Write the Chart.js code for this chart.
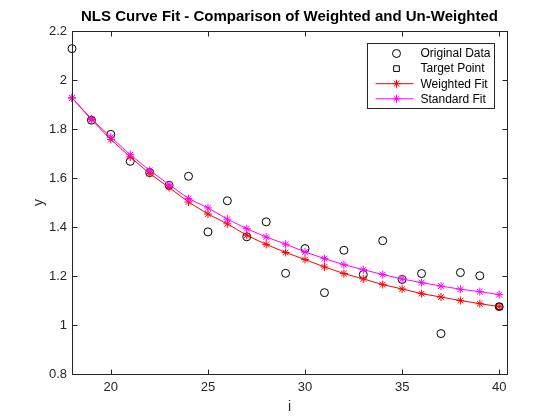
<!DOCTYPE html>
<html>
<head>
<meta charset="utf-8">
<title>NLS Curve Fit</title>
<script src="https://cdn.jsdelivr.net/npm/chart.js"></script>
<style>
  html, body { margin: 0; padding: 0; background: #fff; }
  #wrap { width: 560px; height: 420px; }
</style>
</head>
<body>
<div id="wrap"><canvas id="fitChart" width="560" height="420"></canvas></div>
<script>
const iValues = [18, 19, 20, 21, 22, 23, 24, 25, 26, 27, 28, 29, 30, 31, 32, 33, 34, 35, 36, 37, 38, 39, 40];
const originalY = [2.128, 1.836, 1.778, 1.668, 1.622, 1.570, 1.607, 1.380, 1.507, 1.360, 1.421, 1.211,
  1.312, 1.132, 1.305, 1.206, 1.344, 1.186, 1.210, 0.965, 1.214, 1.201, 1.075];
const weightedY = [1.927, 1.838, 1.757, 1.686, 1.618, 1.561, 1.502, 1.453, 1.413, 1.366, 1.329, 1.296,
  1.267, 1.237, 1.210, 1.188, 1.165, 1.147, 1.128, 1.114, 1.100, 1.087, 1.075];
const standardY = [1.927, 1.842, 1.767, 1.695, 1.631, 1.573, 1.516, 1.478, 1.432, 1.393, 1.359, 1.330,
  1.298, 1.271, 1.246, 1.226, 1.206, 1.188, 1.173, 1.159, 1.146, 1.136, 1.124];
const targetI = [40];
const targetY = [1.075];
const xTicks = [20, 25, 30, 35, 40];
const yTicks = [0.8, 1, 1.2, 1.4, 1.6, 1.8, 2, 2.2];
const chartTitle = "NLS Curve Fit - Comparison of Weighted and Un-Weighted";

const FONT = "'Liberation Sans', Arial, Helvetica, sans-serif";
const AXIS_COLOR = "#262626";

function points(xs, ys) {
  return xs.map((x, k) => ({ x, y: ys[k] }));
}

// MATLAB style box with inward tick marks
const matlabAxes = {
  id: "matlabAxes",
  afterDatasetsDraw(chart) {
    const { ctx, chartArea: a, scales } = chart;
    const L = Math.round(a.left) + 0.5, R = Math.round(a.right) + 0.5;
    const T = Math.round(a.top) + 0.5, B = Math.round(a.bottom) + 0.5;
    const len = 5;
    ctx.save();
    ctx.strokeStyle = AXIS_COLOR;
    ctx.lineWidth = 1;
    ctx.strokeRect(L, T, R - L, B - T);
    ctx.beginPath();
    scales.x.ticks.forEach((t) => {
      const px = Math.round(scales.x.getPixelForValue(t.value)) + 0.5;
      ctx.moveTo(px, B); ctx.lineTo(px, B - len);
      ctx.moveTo(px, T); ctx.lineTo(px, T + len);
    });
    scales.y.ticks.forEach((t) => {
      const py = Math.round(scales.y.getPixelForValue(t.value)) + 0.5;
      ctx.moveTo(L, py); ctx.lineTo(L + len, py);
      ctx.moveTo(R, py); ctx.lineTo(R - len, py);
    });
    ctx.stroke();
    // title centred over the axes, as MATLAB does
    ctx.fillStyle = "#000";
    ctx.font = "bold 15px " + FONT;
    ctx.textAlign = "center";
    ctx.textBaseline = "middle";
    ctx.fillText(chartTitle, (a.left + a.right) / 2, 17);
    ctx.restore();
  },
};

function marker(ctx, style, x, y, r, color) {
  ctx.save();
  ctx.strokeStyle = color;
  ctx.lineWidth = 1;
  ctx.beginPath();
  if (style === "circle") {
    ctx.arc(x, y, r, 0, Math.PI * 2);
  } else if (style === "rect") {
    const s = r * Math.SQRT1_2;
    ctx.rect(x - s, y - s, 2 * s, 2 * s);
  } else {
    const d = r * Math.SQRT1_2;
    ctx.moveTo(x - r, y); ctx.lineTo(x + r, y);
    ctx.moveTo(x, y - r); ctx.lineTo(x, y + r);
    ctx.moveTo(x - d, y - d); ctx.lineTo(x + d, y + d);
    ctx.moveTo(x - d, y + d); ctx.lineTo(x + d, y - d);
  }
  ctx.stroke();
  ctx.restore();
}

const legendBox = {
  id: "legendBox",
  afterDraw(chart) {
    const { ctx, chartArea: a } = chart;
    const w = 127, h = 65;
    const x0 = Math.round(a.right) - 13 - w + 0.5;
    const y0 = Math.round(a.top) + 12 + 0.5;
    ctx.save();
    ctx.fillStyle = "#fff";
    ctx.fillRect(x0, y0, w, h);
    ctx.strokeStyle = AXIS_COLOR;
    ctx.lineWidth = 1;
    ctx.strokeRect(x0, y0, w, h);
    ctx.font = "12px " + FONT;
    ctx.textBaseline = "middle";
    ctx.fillStyle = "#000";
    chart.data.datasets.forEach((ds, k) => {
      const cy = y0 + 10 + k * 15.1;
      if (ds.showLine) {
        ctx.beginPath();
        ctx.strokeStyle = ds.borderColor;
        ctx.moveTo(x0 + 8, cy);
        ctx.lineTo(x0 + 46, cy);
        ctx.stroke();
      }
      marker(ctx, ds.pointStyle, x0 + 29, cy, ds.pointRadius, ds.pointBorderColor);
      ctx.fillText(ds.label, x0 + 53, cy + 0.5);
    });
    ctx.restore();
  },
};

Chart.defaults.font.family = FONT;

new Chart(document.getElementById("fitChart").getContext("2d"), {
  type: "line",
  data: {
    datasets: [
      {
        label: "Original Data",
        data: points(iValues, originalY),
        showLine: false,
        pointStyle: "circle",
        pointRadius: 4,
        pointBorderColor: "#000",
        pointBackgroundColor: "rgba(0,0,0,0)",
        pointBorderWidth: 1,
        borderColor: "#000",
        clip: false,
        order: 4,
      },
      {
        label: "Target Point",
        data: points(targetI, targetY),
        showLine: false,
        pointStyle: "rect",
        pointRadius: 4,
        pointBorderColor: "#000",
        pointBackgroundColor: "rgba(0,0,0,0)",
        pointBorderWidth: 1,
        borderColor: "#000",
        clip: false,
        order: 3,
      },
      {
        label: "Weighted Fit",
        data: points(iValues, weightedY),
        showLine: true,
        borderColor: "#ff0000",
        borderWidth: 1,
        pointStyle: "star",
        pointRadius: 4,
        pointBorderColor: "#ff0000",
        pointBorderWidth: 1,
        tension: 0,
        clip: false,
        order: 2,
      },
      {
        label: "Standard Fit",
        data: points(iValues, standardY),
        showLine: true,
        borderColor: "#ff00ff",
        borderWidth: 1,
        pointStyle: "star",
        pointRadius: 4,
        pointBorderColor: "#ff00ff",
        pointBorderWidth: 1,
        tension: 0,
        clip: false,
        order: 1,
      },
    ],
  },
  options: {
    responsive: false,
    animation: false,
    layout: { padding: { left: 0, right: 53, top: 31, bottom: 0 } },
    plugins: {
      legend: { display: false },
      tooltip: { enabled: false },
      title: { display: false },
    },
    scales: {
      x: {
        type: "linear",
        min: 18,
        max: 40.4,
        afterBuildTicks: (scale) => { scale.ticks = xTicks.map((v) => ({ value: v })); },
        afterFit: (scale) => { scale.height = 46; },
        grid: { display: false, drawTicks: false },
        border: { display: false },
        ticks: { color: AXIS_COLOR, font: { size: 13 }, padding: 6, maxRotation: 0 },
        title: { display: true, text: "i", color: AXIS_COLOR, font: { size: 14 }, padding: { top: 0, bottom: 4 } },
      },
      y: {
        min: 0.8,
        max: 2.2,
        afterBuildTicks: (scale) => { scale.ticks = yTicks.map((v) => ({ value: v })); },
        afterFit: (scale) => { scale.width = 72; },
        grid: { display: false, drawTicks: false },
        border: { display: false },
        ticks: { color: AXIS_COLOR, font: { size: 13 }, padding: 5, callback: (v) => String(v) },
        title: { display: true, text: "y", color: AXIS_COLOR, font: { size: 14 }, padding: { top: 31, bottom: 0 } },
      },
    },
  },
  plugins: [matlabAxes, legendBox],
});
</script>
</body>
</html>
